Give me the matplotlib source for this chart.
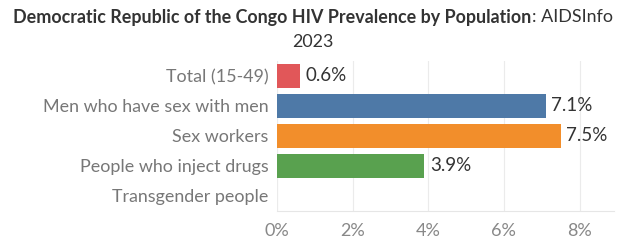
import matplotlib
matplotlib.use("Agg")
import matplotlib.pyplot as plt

plt.rcParams["font.family"] = ["Lato", "DejaVu Sans"]

# data
groups = ["Total (15-49)", "Men who have sex with men", "Sex workers",
          "People who inject drugs", "Transgender people"]
values = [0.6, 7.1, 7.5, 3.9, None]
colors = ["#E15759", "#4E79A7", "#F28E2B", "#59A14F", "#BAB0AC"]
xticks = [0, 2, 4, 6, 8]

fig = plt.figure(figsize=(6.18, 2.45), dpi=100)
ax = fig.add_axes([0.448, 0.139, 0.545, 0.612])

ypos = list(range(len(groups)))
for y, v, c in zip(ypos, values, colors):
    if v is None:
        continue
    ax.barh(y, v, height=0.77, color=c, zorder=2)
    ax.text(v + 0.15, y, f"{v}%", va="center", ha="left", fontsize=13.5, color="#333333")

ax.set_yticks(ypos)
ax.set_yticklabels(groups, fontsize=12.9, color="#777777")
ax.set_ylim(len(groups) - 0.5, -0.5)
ax.set_xlim(0, 8.9)
ax.set_xticks(xticks)
ax.set_xticklabels([f"{t}%" for t in xticks], fontsize=13, color="#888888")
ax.tick_params(length=0, pad=6)
ax.tick_params(axis="x", pad=9)
ax.grid(axis="x", color="#EBEBEB", linewidth=0.8, zorder=0)
for s in ["top", "right", "left"]:
    ax.spines[s].set_visible(False)
ax.spines["bottom"].set_color("#E6E6E6")
ax.axvline(0, color="#E6E6E6", linewidth=0.8, zorder=1)

# title: bold part + regular part, centred together
t1 = fig.text(0, 0.93, "Democratic Republic of the Congo HIV Prevalence by Population",
              fontsize=12.9, fontweight="bold", color="#333333", va="center")
t2 = fig.text(0, 0.93, ": AIDSInfo", fontsize=12.9, color="#333333", va="center")
fig.canvas.draw()
r = fig.canvas.get_renderer()
w1 = t1.get_window_extent(r).width
w2 = t2.get_window_extent(r).width
W = fig.bbox.width
x0 = 313 - (w1 + w2) / 2
t1.set_x(x0 / W)
t2.set_x((x0 + w1) / W)
fig.text(313 / W, 0.83, "2023", fontsize=12.9, color="#333333", ha="center", va="center")

fig.savefig("out.png", dpi=100)
